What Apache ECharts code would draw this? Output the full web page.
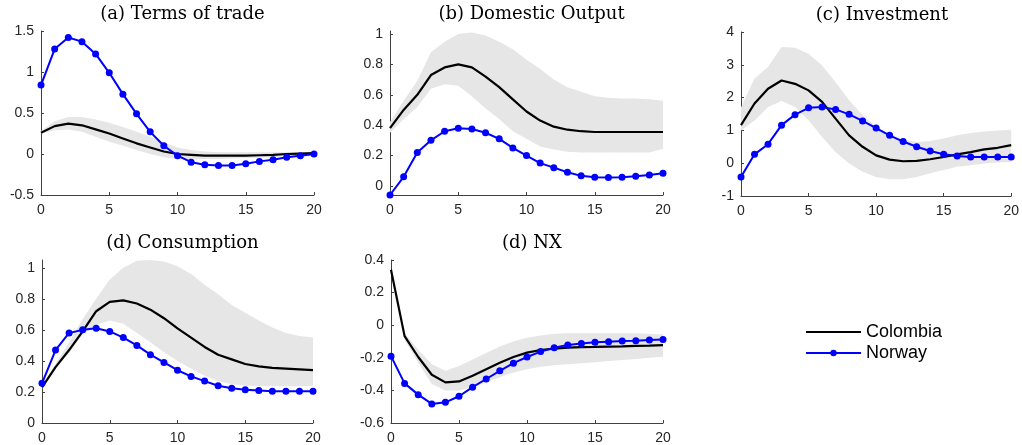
<!DOCTYPE html>
<html>
<head>
<meta charset="utf-8">
<script src="https://cdn.jsdelivr.net/npm/echarts@6/dist/echarts.min.js"></script>
<style>
  html, body { margin: 0; padding: 0; background: #fff; }
  #container { width: 1022px; height: 445px; }
</style>
</head>
<body>
<div id="container"></div>
<script>
var periods = ['0','1','2','3','4','5','6','7','8','9','10','11','12','13','14','15','16','17','18','19','20'];

// (a) Terms of trade
var totColombia = [0.26,0.34,0.37,0.35,0.30,0.25,0.19,0.13,0.08,0.03,0.0,-0.01,-0.02,-0.02,-0.02,-0.02,-0.015,-0.01,0.0,0.005,0.01];
var totNorway   = [0.84,1.28,1.42,1.37,1.22,0.99,0.73,0.49,0.27,0.10,-0.02,-0.10,-0.13,-0.14,-0.14,-0.12,-0.09,-0.07,-0.04,-0.02,0.0];
var totLow      = [0.25,0.29,0.30,0.27,0.21,0.15,0.10,0.05,0.0,-0.04,-0.06,-0.07,-0.06,-0.06,-0.055,-0.05,-0.045,-0.04,-0.03,-0.025,-0.02];
var totHigh     = [0.28,0.40,0.45,0.45,0.42,0.38,0.33,0.27,0.21,0.14,0.08,0.05,0.03,0.02,0.02,0.02,0.02,0.02,0.02,0.02,0.02];

// (b) Domestic Output
var gdpColombia = [0.38,0.50,0.60,0.73,0.78,0.80,0.78,0.72,0.65,0.57,0.49,0.43,0.39,0.37,0.36,0.355,0.355,0.355,0.355,0.355,0.355];
var gdpNorway   = [-0.06,0.06,0.22,0.30,0.36,0.38,0.375,0.35,0.31,0.25,0.20,0.15,0.12,0.09,0.066,0.057,0.055,0.057,0.063,0.072,0.083];
var gdpLow      = [0.35,0.44,0.52,0.64,0.67,0.66,0.59,0.51,0.44,0.36,0.31,0.26,0.24,0.225,0.22,0.22,0.22,0.22,0.22,0.22,0.245];
var gdpHigh     = [0.42,0.56,0.69,0.88,0.95,1.0,1.01,0.99,0.95,0.90,0.83,0.77,0.70,0.65,0.62,0.59,0.58,0.575,0.575,0.57,0.56];

// (c) Investment
var invColombia = [1.16,1.82,2.27,2.52,2.42,2.22,1.87,1.36,0.85,0.50,0.24,0.11,0.06,0.07,0.12,0.19,0.27,0.34,0.42,0.47,0.55];
var invNorway   = [-0.42,0.27,0.58,1.16,1.48,1.69,1.71,1.64,1.49,1.29,1.07,0.85,0.66,0.50,0.37,0.27,0.22,0.19,0.19,0.19,0.19];
var invLow      = [1.0,1.3,1.71,1.9,1.71,1.31,0.80,0.34,-0.01,-0.26,-0.42,-0.49,-0.49,-0.42,-0.31,-0.21,-0.11,-0.06,-0.01,0.02,0.04];
var invHigh     = [1.7,2.58,2.93,3.54,3.52,3.34,2.98,2.47,1.92,1.46,1.11,0.85,0.72,0.65,0.68,0.75,0.85,0.92,0.97,1.0,1.02];

// (d) Consumption
var conColombia = [0.23,0.36,0.47,0.59,0.72,0.78,0.79,0.77,0.73,0.675,0.61,0.55,0.49,0.44,0.41,0.38,0.365,0.355,0.35,0.345,0.34];
var conNorway   = [0.256,0.47,0.58,0.60,0.61,0.59,0.55,0.50,0.44,0.39,0.34,0.30,0.27,0.24,0.224,0.214,0.209,0.205,0.205,0.205,0.205];
var conLow      = [0.22,0.35,0.45,0.57,0.63,0.66,0.64,0.58,0.52,0.455,0.40,0.35,0.305,0.27,0.25,0.24,0.237,0.237,0.237,0.237,0.237];
var conHigh     = [0.24,0.38,0.52,0.67,0.80,0.925,1.0,1.045,1.05,1.04,1.01,0.96,0.89,0.83,0.76,0.71,0.66,0.615,0.58,0.56,0.55];

// (d) NX
var nxColombia = [0.34,-0.067,-0.195,-0.304,-0.351,-0.345,-0.31,-0.27,-0.23,-0.195,-0.168,-0.152,-0.144,-0.138,-0.134,-0.133,-0.131,-0.13,-0.127,-0.125,-0.122];
var nxNorway   = [-0.19,-0.357,-0.426,-0.483,-0.473,-0.436,-0.38,-0.33,-0.28,-0.233,-0.195,-0.162,-0.138,-0.122,-0.112,-0.105,-0.101,-0.097,-0.095,-0.091,-0.087];
var nxLow      = [0.34,-0.09,-0.23,-0.36,-0.40,-0.40,-0.38,-0.35,-0.32,-0.29,-0.27,-0.255,-0.245,-0.24,-0.233,-0.227,-0.22,-0.213,-0.207,-0.2,-0.193];
var nxHigh     = [0.34,-0.05,-0.15,-0.24,-0.28,-0.25,-0.21,-0.17,-0.13,-0.10,-0.077,-0.063,-0.053,-0.05,-0.05,-0.05,-0.05,-0.05,-0.05,-0.052,-0.057];

var panels = [
  {title:'(a) Terms of trade',  col:totColombia, nor:totNorway, lo:totLow, hi:totHigh, min:-0.5, max:1.5,  interval:0.5},
  {title:'(b) Domestic Output', col:gdpColombia, nor:gdpNorway, lo:gdpLow, hi:gdpHigh, min:-0.06, max:1.02},
  {title:'(c) Investment',      col:invColombia, nor:invNorway, lo:invLow, hi:invHigh, min:-1,   max:4,    interval:1},
  {title:'(d) Consumption',     col:conColombia, nor:conNorway, lo:conLow, hi:conHigh, min:0,    max:1.05},
  {title:'(d) NX',              col:nxColombia,  nor:nxNorway,  lo:nxLow,  hi:nxHigh,  min:-0.6, max:0.4,  interval:0.2}
];

var boxes = [
  {left:41,  top:31,  width:273, height:164},
  {left:390, top:31,  width:273, height:164},
  {left:741, top:32,  width:272, height:164},
  {left:42,  top:260, width:271, height:164},
  {left:391, top:260, width:272, height:164}
];

var axisColor = '#404040';
var labelFont = {fontFamily:'Liberation Sans', fontSize:14, color:'#262626'};

var grids = [], xAxes = [], yAxes = [], titles = [], series = [];

for (var i = 0; i < panels.length; i++) {
  var p = panels[i], b = boxes[i];
  grids.push({left:b.left, top:b.top, width:b.width, height:b.height, containLabel:false});
  titles.push({
    text: p.title,
    left: b.left + b.width / 2,
    top: b.top - 31,
    textAlign: 'center',
    textStyle: {fontFamily:'DejaVu Serif', fontSize:18, fontWeight:'normal', color:'#000'}
  });
  xAxes.push({
    type:'category', gridIndex:i, data:periods, boundaryGap:false,
    axisLine:{onZero:false, lineStyle:{color:axisColor, width:1}},
    axisTick:{inside:true, length:3, interval:4, lineStyle:{color:axisColor}},
    axisLabel:Object.assign({interval:4, margin:8}, labelFont),
    splitLine:{show:false}
  });
  var ya = {
    type:'value', gridIndex:i, min:p.min, max:p.max,
    axisLine:{show:true, lineStyle:{color:axisColor, width:1}},
    axisTick:{show:true, inside:true, length:3, lineStyle:{color:axisColor}},
    axisLabel:Object.assign({margin:7}, labelFont),
    splitLine:{show:false}
  };
  if (p.interval) {
    ya.interval = p.interval;
  } else {
    ya.axisLabel.showMinLabel = (p.min === 0);
    ya.axisLabel.showMaxLabel = false;
  }
  yAxes.push(ya);

  var diff = [];
  for (var k = 0; k < p.lo.length; k++) diff.push(+(p.hi[k] - p.lo[k]).toFixed(4));

  series.push({
    type:'line', xAxisIndex:i, yAxisIndex:i, data:p.lo, stack:'band' + i, stackStrategy:'all',
    symbol:'none', lineStyle:{opacity:0}, silent:true, z:1
  });
  series.push({
    type:'line', xAxisIndex:i, yAxisIndex:i, data:diff, stack:'band' + i, stackStrategy:'all',
    symbol:'none', lineStyle:{opacity:0}, areaStyle:{color:'#e6e6e6', opacity:1}, silent:true, z:1
  });
  series.push({
    name:'Colombia', type:'line', xAxisIndex:i, yAxisIndex:i, data:p.col,
    symbol:'none', lineStyle:{color:'#000', width:2.2}, itemStyle:{color:'#000'}, z:3
  });
  series.push({
    name:'Norway', type:'line', xAxisIndex:i, yAxisIndex:i, data:p.nor,
    symbol:'circle', symbolSize:7, showAllSymbol:true,
    lineStyle:{color:'#0000ff', width:2}, itemStyle:{color:'#0000ff'}, z:4
  });
}

var chart = echarts.init(document.getElementById('container'), null, {renderer:'canvas'});
chart.setOption({
  animation:false,
  backgroundColor:'#fff',
  title:titles,
  grid:grids,
  xAxis:xAxes,
  yAxis:yAxes,
  legend:{
    data:[{name:'Colombia', itemStyle:{opacity:0}}, {name:'Norway'}],
    orient:'vertical', left:805, top:323, padding:0,
    itemWidth:55, itemHeight:8, itemGap:3,
    textStyle:{fontFamily:'Liberation Sans', fontSize:18, color:'#000'}
  },
  series:series
});
</script>
</body>
</html>
